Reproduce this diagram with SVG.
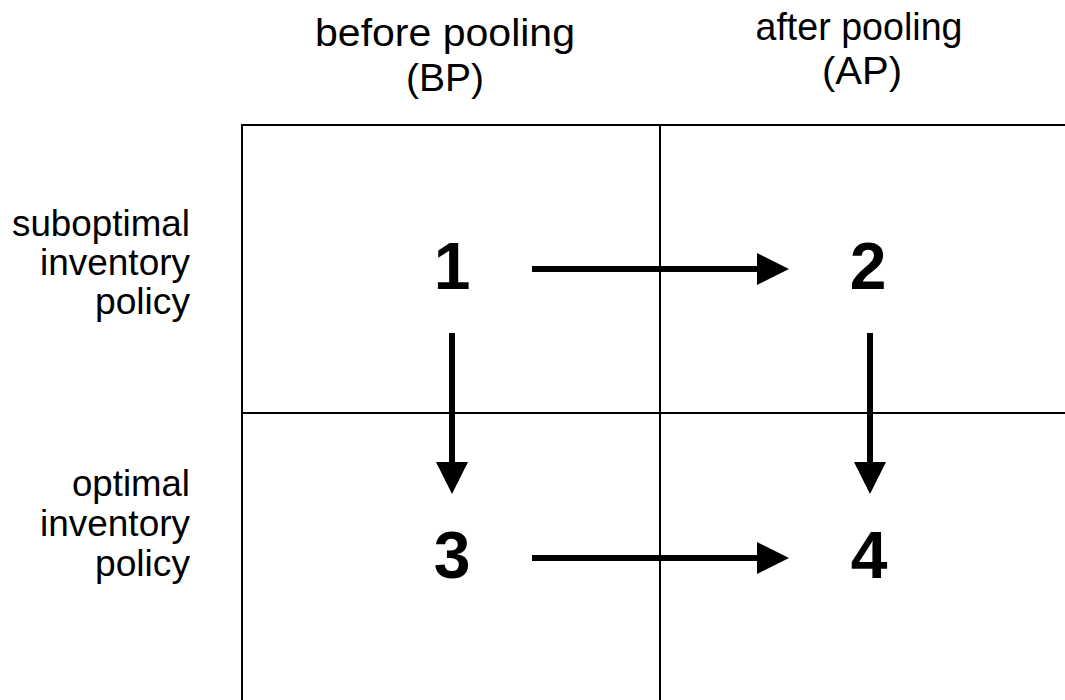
<svg xmlns="http://www.w3.org/2000/svg" width="1065" height="700" viewBox="0 0 1065 700">
<style>
.grid{stroke:#000;stroke-width:2;fill:none}
.conn{stroke:#000;stroke-width:6;fill:none}
.lbl{font-family:"Liberation Sans",Arial,sans-serif;font-size:36px;fill:#000}
.hdr{font-family:"Liberation Sans",Arial,sans-serif;font-size:39px;fill:#000;text-anchor:middle}
.num{font-family:"Liberation Sans",Arial,sans-serif;font-size:66px;font-weight:bold;fill:#000;text-anchor:middle}
</style>
<defs>
<marker id="ah" markerUnits="userSpaceOnUse" markerWidth="32" markerHeight="32" refX="0" refY="16" orient="auto">
<path d="M0,0 L32,16 L0,32 Z" fill="#000"/>
</marker>
</defs>
<rect width="1065" height="700" fill="#fff"/>
<g id="grid">
<path class="grid" d="M242,700 V125 H1065 M660,125 V700 M242,413 H1065"/>
</g>
<g id="headers">
<text class="hdr" x="445" y="46" textLength="260" lengthAdjust="spacingAndGlyphs">before pooling</text>
<text class="hdr" x="445" y="91" textLength="78" lengthAdjust="spacingAndGlyphs">(BP)</text>
<text class="hdr" x="859" y="40" textLength="207" lengthAdjust="spacingAndGlyphs">after pooling</text>
<text class="hdr" x="862" y="84" textLength="80" lengthAdjust="spacingAndGlyphs">(AP)</text>
</g>
<g id="row-labels">
<text class="lbl" x="190" y="236" text-anchor="end" textLength="178" lengthAdjust="spacingAndGlyphs">suboptimal</text>
<text class="lbl" x="190" y="275" text-anchor="end" textLength="150" lengthAdjust="spacingAndGlyphs">inventory</text>
<text class="lbl" x="190" y="314" text-anchor="end" textLength="95" lengthAdjust="spacingAndGlyphs">policy</text>
<text class="lbl" x="190" y="496" text-anchor="end" textLength="118" lengthAdjust="spacingAndGlyphs">optimal</text>
<text class="lbl" x="190" y="536" text-anchor="end" textLength="150" lengthAdjust="spacingAndGlyphs">inventory</text>
<text class="lbl" x="190" y="576" text-anchor="end" textLength="95" lengthAdjust="spacingAndGlyphs">policy</text>
</g>
<g id="node1"><text class="num" x="452" y="289">1</text></g>
<g id="node2"><text class="num" x="868" y="289">2</text></g>
<g id="node3"><text class="num" x="452" y="578">3</text></g>
<g id="node4"><text class="num" x="869" y="578">4</text></g>
<g id="connectors">
<line class="conn" x1="532" y1="269" x2="757" y2="269" marker-end="url(#ah)"/>
<line class="conn" x1="532" y1="558" x2="757" y2="558" marker-end="url(#ah)"/>
<line class="conn" x1="452" y1="333" x2="452" y2="462" marker-end="url(#ah)"/>
<line class="conn" x1="870" y1="333" x2="870" y2="462" marker-end="url(#ah)"/>
</g>
</svg>
